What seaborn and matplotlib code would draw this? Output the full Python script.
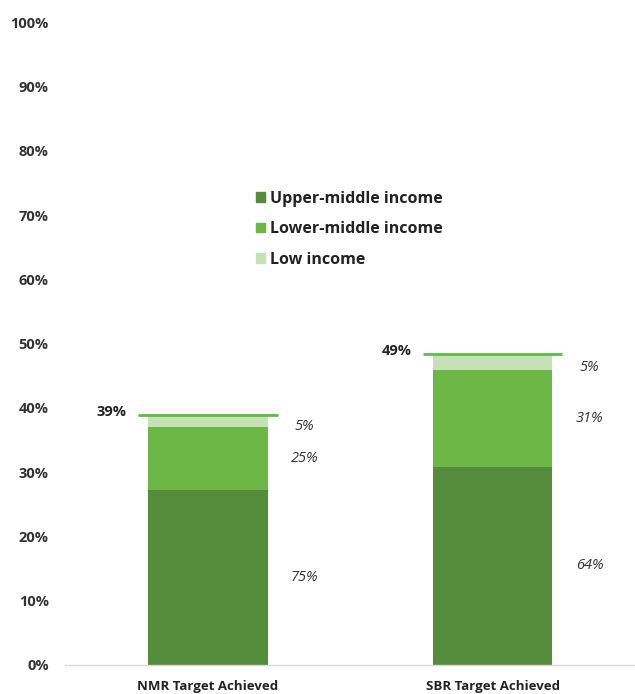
import matplotlib
matplotlib.use("Agg")
import matplotlib.pyplot as plt
import seaborn as sns
import numpy as np
import pandas as pd
from matplotlib.patches import Patch

categories = ["NMR Target Achieved", "SBR Target Achieved"]
upper_middle = [27.2, 30.8]
lower_middle = [9.8, 15.1]
low_income = [1.9, 2.5]
total_labels = ["39%", "49%"]
share_labels_upper = ["75%", "64%"]
share_labels_lower = ["25%", "31%"]
share_labels_low = ["5%", "5%"]
series_names = ["Upper-middle income", "Lower-middle income", "Low income"]
yticks = list(range(0, 101, 10))

c_dark = "#558C3B"
c_mid = "#6CB746"
c_light = "#C5E1B5"
c_line = "#5DBB47"

sns.set_theme(style="white")
plt.rcParams["font.family"] = ["Open Sans", "DejaVu Sans"]

fig = plt.figure(figsize=(6.35, 6.94), dpi=100)
ax = fig.add_axes([0.103, 0.042, 0.897, 0.926])

up = np.array(upper_middle)
lo = np.array(lower_middle)
lw = np.array(low_income)
df = pd.DataFrame({"cat": categories, "top": up + lo + lw, "mid": up + lo, "base": up})

for col, colr in [("top", c_light), ("mid", c_mid), ("base", c_dark)]:
    sns.barplot(data=df, x="cat", y=col, color=colr, width=0.42, saturation=1,
                linewidth=0, edgecolor="none", ax=ax)

tops = up + lo + lw
for i in range(len(categories)):
    ax.hlines(tops[i], i - 0.245, i + 0.245, color=c_line, lw=2, zorder=5)
    ax.text(i - 0.285, tops[i] + 0.4, total_labels[i], ha="right", va="center",
            fontsize=10.5, fontweight="bold", color="#222222")
    xl = i + 0.34
    ax.text(xl, up[i] / 2, share_labels_upper[i], ha="center", va="center",
            fontsize=10.5, style="italic", color="#333333")
    ax.text(xl, up[i] + lo[i] / 2, share_labels_lower[i], ha="center", va="center",
            fontsize=10.5, style="italic", color="#333333")
    ax.text(xl, up[i] + lo[i] + lw[i] / 2 - 0.9, share_labels_low[i], ha="center", va="center",
            fontsize=10.5, style="italic", color="#333333")

ax.set_ylim(0, 100)
ax.set_xlim(-0.5, 1.5)
ax.set_yticks(yticks)
ax.set_yticklabels([f"{t}%" for t in yticks], fontsize=10.5, fontweight="bold", color="#333333")
ax.set_xticks(range(len(categories)))
ax.set_xticklabels(categories, fontsize=9.5, fontweight="bold", color="#222222")
ax.tick_params(axis="y", length=0, pad=12)
ax.tick_params(axis="x", length=0, pad=11)
ax.set_xlabel("")
ax.set_ylabel("")
for s in ["top", "right", "left"]:
    ax.spines[s].set_visible(False)
ax.spines["bottom"].set_color("#D9D9D9")
ax.spines["bottom"].set_linewidth(1)

handles = [Patch(color=c_dark), Patch(color=c_mid), Patch(color=c_light)]
leg = ax.legend(handles, series_names, loc="upper left", bbox_to_anchor=(0.31, 0.76),
                frameon=False, handlelength=0.55, handleheight=0.55, handletextpad=0.3,
                labelspacing=0.9, prop={"size": 11.5, "weight": "bold"})
for t in leg.get_texts():
    t.set_color("#222222")

fig.savefig("out.png", dpi=100)
